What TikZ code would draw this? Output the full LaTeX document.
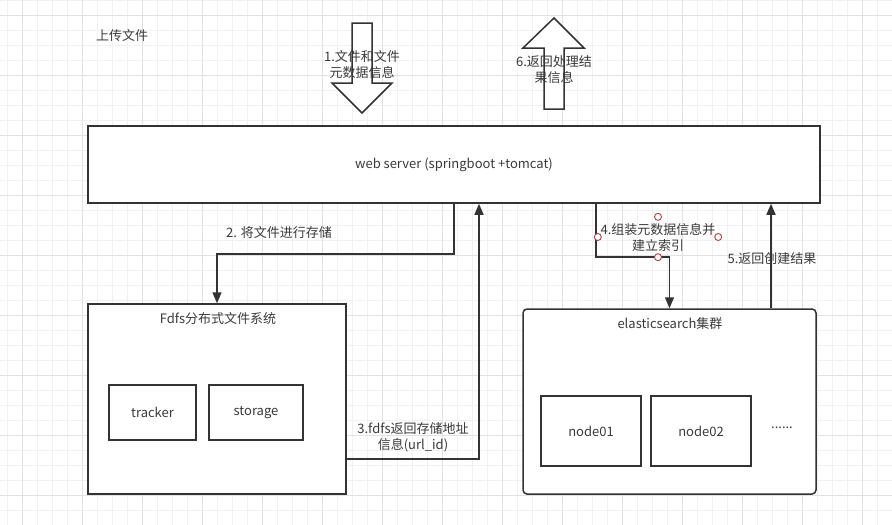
\documentclass[tikz,border=0pt]{standalone}
\usepackage{fontspec}
\setmainfont{Noto Sans CJK SC}
\usetikzlibrary{arrows.meta}

\definecolor{linec}{HTML}{333333}
\definecolor{textc}{HTML}{3A3A3A}
\definecolor{gridmin}{HTML}{F1F1F1}
\definecolor{gridmaj}{HTML}{E2E2E2}
\definecolor{handle}{HTML}{B04040}

\tikzset{
  box/.style={draw=linec, line width=1.5pt, fill=white, inner sep=0pt, text=textc,
    font=\fontsize{13}{16}\selectfont},
  lbl/.style={text=textc, align=center, inner sep=0pt, font=\fontsize{13}{16}\selectfont},
  arr/.style={draw=linec, line width=1.5pt, -{Triangle[length=11pt,width=9pt]}},
  blockarr/.style={draw=linec, line width=1.5pt, fill=white, line join=miter},
  handledot/.style={draw=handle, fill=white, line width=0.9pt, radius=3.5pt},
}

\begin{document}
\begin{tikzpicture}[x=1pt, y=-1pt]
        \useasboundingbox (0,0) rectangle (892,525);
        \fill[white] (0,0) rectangle (892,525);
        \foreach \x in {7,22,...,892} \draw[gridmin, line width=0.8pt] (\x,0) -- (\x,525);
        \foreach \y in {0,15,...,525} \draw[gridmin, line width=0.8pt] (0,\y) -- (892,\y);
        \foreach \x in {22,82,...,892} \draw[gridmaj, line width=0.8pt] (\x,0) -- (\x,525);
        \foreach \y in {15,75,...,525} \draw[gridmaj, line width=0.8pt] (0,\y) -- (892,\y);

        \node[lbl] (title) at (122,36) {上传文件};

        \draw[blockarr] (352,23) -- (372,23) -- (372,83) -- (392,83) -- (362,113) -- (332,83) -- (352,83) -- cycle;
        \node[lbl] (lbl1) at (362,65) {1.文件和文件\\元数据信息};
        \draw[blockarr] (544,109) -- (564,109) -- (564,48) -- (584,48) -- (554,18) -- (523,48) -- (544,48) -- cycle;
        \node[lbl] (lbl6) at (554,70) {6.返回处理结\\果信息};

        \node[box, minimum width=732pt, minimum height=77pt] (web) at (454,164.5) {web server (springboot +tomcat)};

        \node[box, minimum width=258pt, minimum height=190pt] (fdfs) at (217,399) {};
        \node[lbl, anchor=center] (fdfstitle) at (218,319) {Fdfs分布式文件系统};
        \node[box, minimum width=87pt, minimum height=55pt] (tracker) at (152.5,412.5) {tracker};
        \node[box, minimum width=94pt, minimum height=55pt] (storage) at (256,412.5) {storage};

        \node[box, rounded corners=4pt, minimum width=293pt, minimum height=185pt] (es) at (669.5,401.5) {};
        \node[lbl] (estitle) at (670,324) {elasticsearch集群};
        \node[box, minimum width=100pt, minimum height=70pt] (node01) at (591,431) {node01};
        \node[box, minimum width=100pt, minimum height=70pt] (node02) at (701,431) {node02};
        \node[lbl] (dots) at (782,428) {......};

        \draw[arr] (web.south) -- ++(0,50) -| (fdfs.north);
        \node[lbl] (lbl2) at (279,233) {2. 将文件进行存储};

        \draw[arr] ([yshift=-60pt]fdfs.east) -| ([xshift=25pt]web.south);
        \node[lbl] (lbl3) at (413,437) {3.fdfs返回存储地址\\信息(url\_id)};

        \draw[arr] ([xshift=142pt]web.south) -- ++(0,53) -| (es.north);
        \node[lbl, minimum width=120pt, minimum height=40pt] (lbl4) at (658,237) {4.组装元数据信息并\\建立索引};
        \foreach \a in {north,south,east,west} \draw[handledot] (lbl4.\a) circle;

        \draw[arr] ([xshift=101.5pt]es.north) -- ([xshift=101.5pt]es.north |- web.south);
        \node[lbl] (lbl5) at (772,259) {5.返回创建结果};
    \end{tikzpicture}
\end{document}
